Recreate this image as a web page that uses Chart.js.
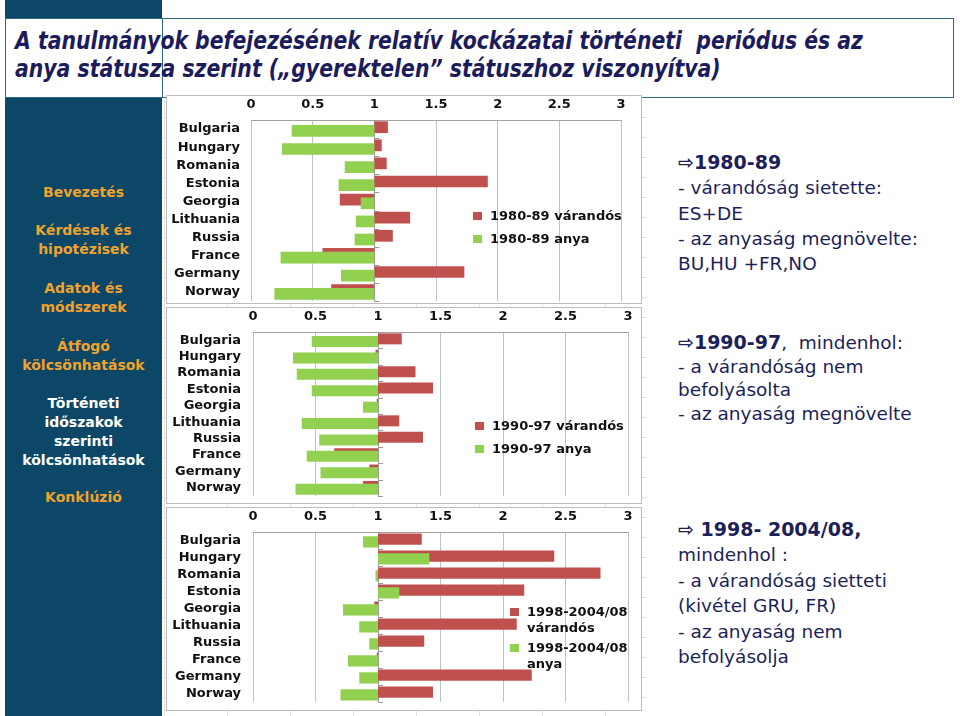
<!DOCTYPE html>
<html>
<head>
<meta charset="utf-8">
<script src="https://cdn.jsdelivr.net/npm/chart.js@4.4.1/dist/chart.umd.min.js"></script>
<style>
  body { margin: 0; width: 960px; height: 716px; position: relative; overflow: hidden; background: #fff; font-family: "DejaVu Sans", sans-serif; }
  #side { position: absolute; left: 5px; top: 0; width: 157px; height: 716px; background: #0c4767; }
  #cells { position: absolute; left: 162px; top: 97px; width: 485px; height: 619px;
    background-image: linear-gradient(#e3e3e3 1px, transparent 1px), linear-gradient(90deg, #e3e3e3 1px, transparent 1px);
    background-size: 63px 20px; background-position: 2px 0; }
  #titlebox { position: absolute; left: 5px; top: 18px; width: 947px; height: 78px; border: 1px solid #2f6a7c; background: #fff; }
  #titlebox .sep { position: absolute; left: 156px; top: 0; width: 1px; height: 78px; background: #2f6a7c; }
  .tline { position: absolute; left: 9px; white-space: nowrap; font: italic bold 24px "DejaVu Sans", sans-serif; color: #1c1c5c; transform-origin: 0 50%; }
  .menu { position: absolute; left: 5px; width: 157px; text-align: center; font: bold 14px "DejaVu Sans", sans-serif; line-height: 19px; color: #f0a22e; }
  .menu.cur { color: #fff; }
  .frame { position: absolute; left: 166px; width: 474px; border: 1px solid #bdbdbd; background: #fff; }
  canvas { position: absolute; }
  .leg { position: absolute; font: bold 13px "DejaVu Sans", sans-serif; color: #111; line-height: 16px; white-space: nowrap; }
  .leg i { position: absolute; left: -17px; top: 4px; width: 9px; height: 8px; }
  .note { position: absolute; left: 678px; font: 18.5px "DejaVu Sans", sans-serif; color: #1c1f5a; white-space: nowrap; }
  .note b { font-size: 19px; }
</style>
</head>
<body>
<div id="side"></div>
<div id="cells"></div>
<div id="titlebox">
  <div class="sep"></div>
  <div class="tline" id="t1" style="top:8px">A tanulmányok befejezésének relatív kockázatai történeti&nbsp; periódus és az</div>
  <div class="tline" id="t2" style="top:36px">anya státusza szerint („gyerektelen” státuszhoz viszonyítva)</div>
</div>

<div class="menu" style="top:183px">Bevezetés</div>
<div class="menu" style="top:221px">Kérdések és<br>hipotézisek</div>
<div class="menu" style="top:279px">Adatok és<br>módszerek</div>
<div class="menu" style="top:337px">Átfogó<br>kölcsönhatások</div>
<div class="menu cur" style="top:394px">Történeti<br>időszakok<br>szerinti<br>kölcsönhatások</div>
<div class="menu" style="top:488px">Konklúzió</div>

<div class="frame" style="top:95px;height:207px"></div>
<div class="frame" style="top:307px;height:195px"></div>
<div class="frame" style="top:507px;height:202px"></div>
<canvas id="c1" width="474" height="206" style="left:167px;top:96px"></canvas>
<canvas id="c2" width="474" height="194" style="left:167px;top:308px"></canvas>
<canvas id="c3" width="474" height="201" style="left:167px;top:508px"></canvas>

<div class="leg" style="left:490px;top:208px"><i style="background:#c0504d"></i>1980-89 várandós</div>
<div class="leg" style="left:490px;top:231px"><i style="background:#92d050"></i>1980-89 anya</div>
<div class="leg" style="left:492px;top:418px"><i style="background:#c0504d"></i>1990-97 várandós</div>
<div class="leg" style="left:492px;top:441px"><i style="background:#92d050"></i>1990-97 anya</div>
<div class="leg" style="left:527px;top:604px"><i style="background:#c0504d"></i>1998-2004/08<br>várandós</div>
<div class="leg" style="left:527px;top:640px"><i style="background:#92d050"></i>1998-2004/08<br>anya</div>

<div class="note" style="top:150px;line-height:25.3px"><b>⇨1980-89</b><br>- várandóság sietette:<br>ES+DE<br>- az anyaság megnövelte:<br>BU,HU +FR,NO</div>
<div class="note" style="top:331px;line-height:23.7px"><b>⇨1990-97</b>,&nbsp; mindenhol:<br>- a várandóság nem<br>befolyásolta<br>- az anyaság megnövelte</div>
<div class="note" style="top:517px;line-height:25.4px"><b>⇨ 1998- 2004/08,</b><br>mindenhol :<br>- a várandóság sietteti<br>(kivétel GRU, FR)<br>- az anyaság nem<br>befolyásolja</div>

<script>
// országok (fentről lefelé)
const countries = ['Bulgaria', 'Hungary', 'Romania', 'Estonia', 'Georgia', 'Lithuania', 'Russia', 'France', 'Germany', 'Norway'];
const baseline = 1; // relatív kockázat referencia: gyerektelen = 1

// 1980-89
const varandos8089 = [1.11, 1.06, 1.10, 1.92, 0.72, 1.29, 1.15, 0.58, 1.73, 0.65];
const anya8089     = [0.33, 0.25, 0.76, 0.71, 0.89, 0.85, 0.84, 0.24, 0.73, 0.19];
// 1990-97
const varandos9097 = [1.19, 0.98, 1.30, 1.44, 0.99, 1.17, 1.36, 0.65, 0.93, 0.88];
const anya9097     = [0.47, 0.32, 0.35, 0.47, 0.88, 0.39, 0.53, 0.43, 0.54, 0.34];
// 1998-2004/08
const varandos9808 = [1.35, 2.41, 2.78, 2.17, 0.97, 2.11, 1.37, 0.99, 2.23, 1.44];
const anya9808     = [0.88, 1.41, 0.98, 1.17, 0.72, 0.85, 0.93, 0.76, 0.85, 0.70];

const RED = '#c0504d';
const GREEN = '#92d050';
const labelFont = { family: 'DejaVu Sans', size: 13, weight: 'bold' };

// tengely az 1-es értéknél + a zöld sáv a piros fölé kerüljön (Excelben így rajzolódik)
const drawOrder = {
  id: 'drawOrder',
  beforeDatasetsDraw(chart) {
    const ctx = chart.ctx, a = chart.chartArea;
    const x1 = chart.scales.x.getPixelForValue(baseline);
    const ys = chart.scales.y;
    ctx.save();
    ctx.strokeStyle = '#9a9a9a';
    ctx.lineWidth = 1;
    ctx.beginPath();
    ctx.moveTo(Math.round(x1) + 0.5, a.top);
    ctx.lineTo(Math.round(x1) + 0.5, a.bottom);
    for (let i = 0; i <= countries.length; i++) {
      const y = Math.round(ys.getPixelForValue(i - 0.5)) + 0.5;
      ctx.moveTo(x1, y);
      ctx.lineTo(x1 + 5, y);
    }
    ctx.stroke();
    ctx.restore();
    chart.getSortedVisibleDatasetMetas().forEach(m => m.controller.draw());
    return false;
  }
};

function drawPanel(id, red, green, geo) {
  const el = document.getElementById(id);
  const common = { categoryPercentage: geo.cat, barPercentage: geo.bar, borderWidth: 0 };
  return new Chart(el, {
    type: 'bar',
    data: {
      labels: countries,
      datasets: [
        Object.assign({ label: 'várandós', data: red.map(v => [baseline, v]), backgroundColor: RED }, common),
        Object.assign({ label: 'anya', data: green.map(v => [baseline, v]), backgroundColor: GREEN }, common)
      ]
    },
    options: {
      indexAxis: 'y',
      responsive: false,
      animation: false,
      layout: { padding: { left: 0, top: 0, right: geo.pr, bottom: geo.pb } },
      plugins: { legend: { display: false }, tooltip: { enabled: false } },
      scales: {
        x: {
          position: 'top', min: 0, max: 3,
          ticks: { stepSize: 0.5, color: '#111', font: labelFont, padding: 8, callback: v => String(v) },
          grid: { color: '#b7c2d4', drawTicks: false },
          border: { color: '#a3a3a3' },
          afterFit: s => { s.height = 24; }
        },
        y: {
          ticks: { color: '#111', font: labelFont, padding: geo.lp, autoSkip: false },
          grid: { display: false, drawTicks: false },
          border: { display: false },
          afterFit: s => { s.width = geo.yw; s.paddingTop = 0; s.paddingBottom = 0; }
        }
      }
    },
    plugins: [drawOrder]
  });
}

drawPanel('c1', varandos8089, anya8089, { yw: 84, pr: 20, pb: 1, lp: 11, cat: 0.41, bar: 3.16 });
drawPanel('c2', varandos9097, anya9097, { yw: 86, pr: 13, pb: 6, lp: 12, cat: 0.33, bar: 4.07 });
drawPanel('c3', varandos9808, anya9808, { yw: 86, pr: 13, pb: 7, lp: 12, cat: 0.33, bar: 4.0 });

// cím szélességének igazítása
const t1 = document.getElementById('t1'), t2 = document.getElementById('t2');
const k = 848 / t1.getBoundingClientRect().width;
t1.style.transform = t2.style.transform = 'scaleX(' + k + ')';
</script>
</body>
</html>
